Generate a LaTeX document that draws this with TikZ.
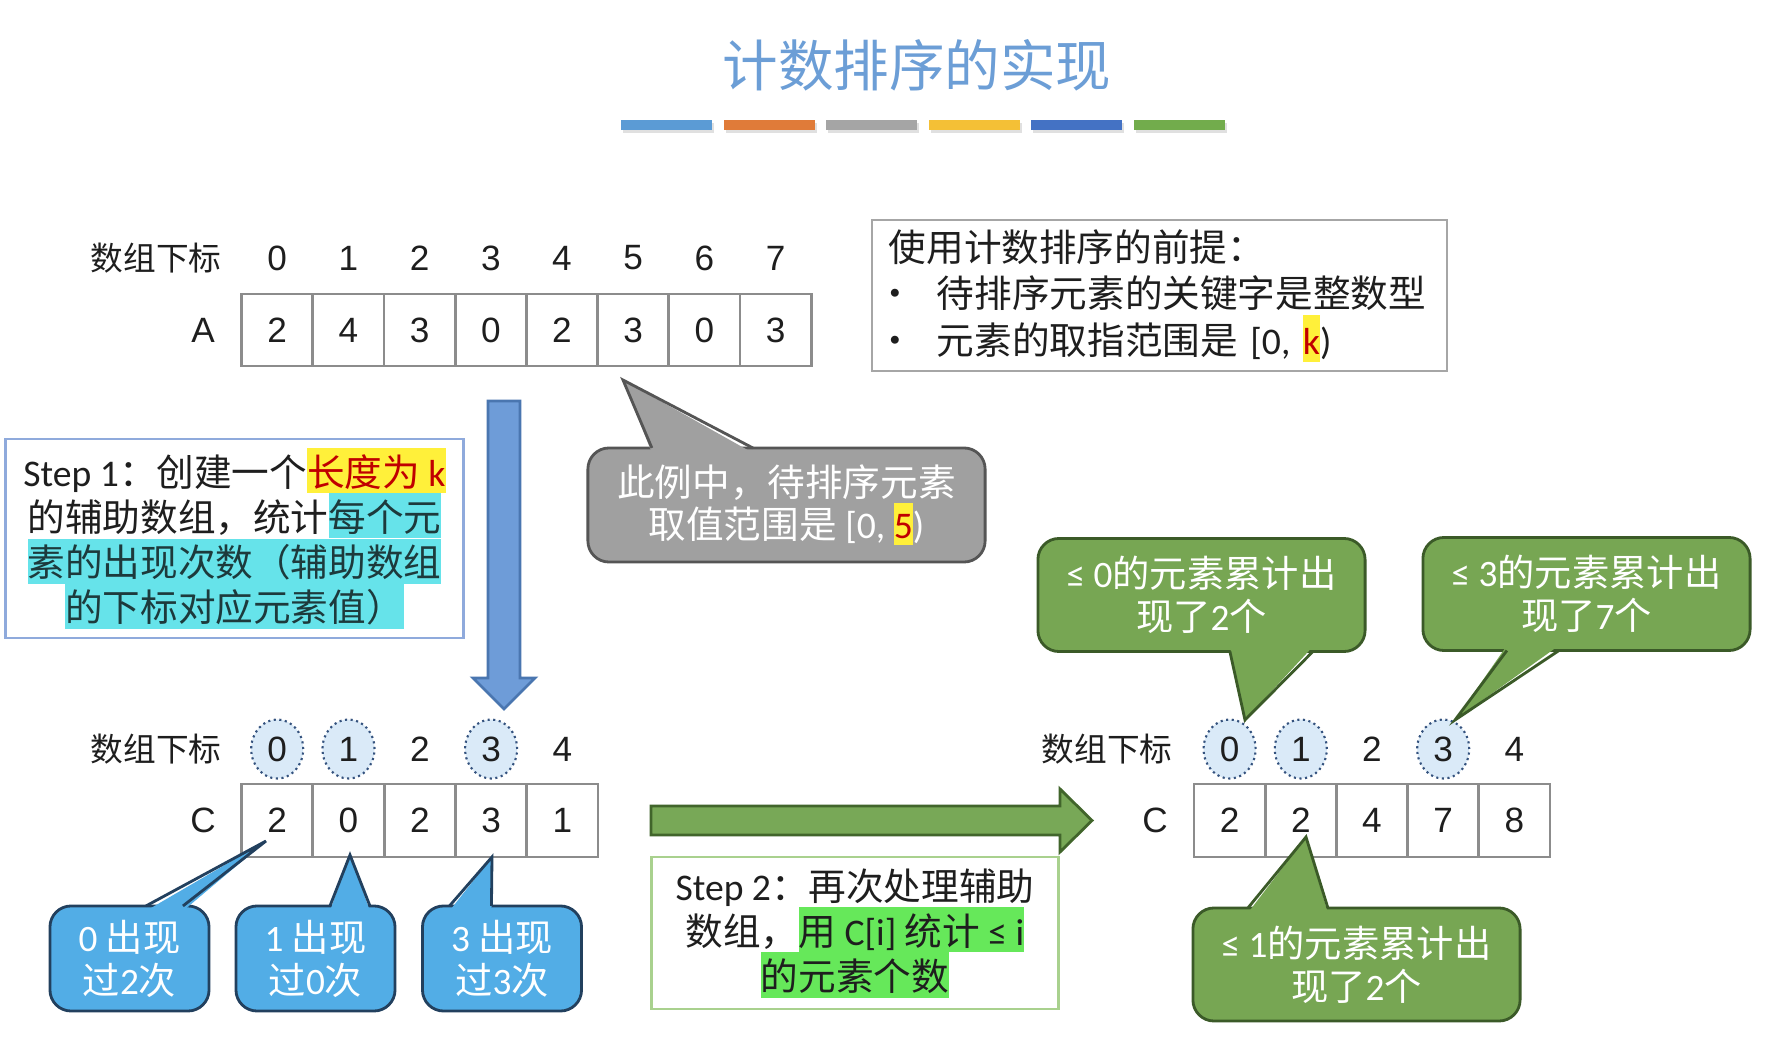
\documentclass[tikz,border=0pt]{standalone}
\usepackage{fontspec}
\setmainfont{Noto Sans CJK SC}
\newfontfamily\latin{Carlito}
\newfontfamily\arial{Liberation Sans}
\usepackage{tikz}
\usetikzlibrary{calc,shapes.geometric}
\definecolor{ink}{HTML}{1E1E1E}
\definecolor{titleblue}{HTML}{6C9ED6}
\definecolor{bar1}{HTML}{5B9BD5}
\definecolor{bar2}{HTML}{E07B39}
\definecolor{bar3}{HTML}{A5A5A5}
\definecolor{bar4}{HTML}{F4C036}
\definecolor{bar5}{HTML}{4472C4}
\definecolor{bar6}{HTML}{72AC4C}
\definecolor{cellline}{HTML}{8C8C8C}
\definecolor{ringfill}{HTML}{DAEAF8}
\definecolor{ringline}{HTML}{34527E}
\definecolor{boxgray}{HTML}{A6A6A6}
\definecolor{stepblue}{HTML}{8FAADC}
\definecolor{stepgreen}{HTML}{A9D18E}
\definecolor{hlyellow}{HTML}{FFF03A}
\definecolor{hlcyan}{HTML}{66E3EA}
\definecolor{hlgreen}{HTML}{66E85A}
\definecolor{hlred}{HTML}{C00000}
\definecolor{hlink}{HTML}{1D3A3C}
\definecolor{grayfill}{HTML}{A0A0A0}
\definecolor{grayedge}{HTML}{555555}
\definecolor{bluefill}{HTML}{52ADE6}
\definecolor{blueedge}{HTML}{22405E}
\definecolor{greenfill}{HTML}{77A653}
\definecolor{greenedge}{HTML}{3B5A28}
\definecolor{downfill}{HTML}{6E9CD8}
\definecolor{downedge}{HTML}{4A76B0}
\definecolor{rightfill}{HTML}{78A857}
\definecolor{rightedge}{HTML}{41652B}
% highlight that fills exactly one line
\newcommand{\hlbox}[2]{{\setlength{\fboxsep}{0pt}\colorbox{#1}{\rule[-0.15\baselineskip]{0pt}{\baselineskip}#2}}}
\newcommand{\dotitem}{\makebox[0.48cm][l]{\hspace{-0.12cm}•}}

\begin{document}
\begin{tikzpicture}[x=0.01cm, y=-0.01cm,
  cell/.style={draw=cellline, line width=0.8pt, minimum width=0.712cm, minimum height=0.73cm, inner sep=0pt, font=\arial\fontsize{10}{12}\selectfont, text=ink},
  idx/.style={inner sep=0pt, font=\arial\fontsize{10}{12}\selectfont, text=ink},
  idxon/.style={idx, ellipse, draw=ringline, densely dotted, line width=0.6pt, fill=ringfill, minimum width=0.52cm, minimum height=0.59cm},
  lab/.style={inner sep=0pt, font=\fontsize{9.3}{11}\selectfont, text=ink},
  stepbox/.style={draw=#1, line width=0.8pt, fill=white, align=center, text=ink, inner sep=0pt, font=\fontsize{10.7}{12.8}\selectfont},
  bub/.style={rounded corners=6pt, line width=0.8pt, outer sep=0pt, align=center, inner sep=0pt, font=\fontsize{10.6}{12.2}\selectfont},
  bluebub/.style={bub, draw=blueedge, fill=bluefill, text=white, minimum width=1.59cm, minimum height=1.05cm},
  greenbub/.style={bub, draw=greenedge, fill=greenfill, text=white, minimum width=3.27cm, minimum height=1.13cm},
  blockarrow/.style={line width=0.8pt, line join=miter},
]
\path[use as bounding box, fill=white] (0,0) rectangle (1787,1043);

% title and colour bars
\node[text=titleblue, font=\fontsize{15.8}{18}\selectfont] (title) at (917,65) {计数排序的实现};
\foreach \c [count=\i from 0] in {bar1,bar2,bar3,bar4,bar5,bar6} {
  \fill[black!12] ({623+102.6*\i},123) rectangle +(91,10);
  \fill[\c] ({621+102.6*\i},120) rectangle +(91,10);
}

% array A
\node[lab] (labA) at (156,258) {数组下标};
\node[idx] (nameA) at (203,330) {A};
\foreach \v [count=\i from 0] in {2,4,3,0,2,3,0,3} {
  \node[idx] (ia\i) at ({277.2+71.2*\i},258) {\i};
  \node[cell, minimum height=0.72cm] (a\i) at ({277.2+71.2*\i},330) {\v};
}

% premise box
\node[draw=boxgray, line width=0.7pt, minimum width=5.75cm, minimum height=1.51cm, inner xsep=0.17cm, inner ysep=0pt,
  text width=5.41cm, align=left, text=ink, font=\fontsize{10.7}{13.3}\selectfont] (pre) at (1159.5,295.5)
  {使用计数排序的前提：\\
   \dotitem 待排序元素的关键字是整数型\\
   \dotitem 元素的取指范围是 {\latin [0, }\hlbox{hlyellow}{\color{hlred}\latin k}{\latin )}};

% step 1
\node[stepbox=stepblue, minimum width=4.57cm, minimum height=1.99cm] (stepa) at (234.5,538.5)
  {{\latin Step 1}：创建一个\hlbox{hlyellow}{\color{hlred}长度为 {\latin k}}\\
   的辅助数组，统计\hlbox{hlcyan}{\color{hlink}每个元}\\
   \hlbox{hlcyan}{\color{hlink}素的出现次数（辅助数组}\\
   \hlbox{hlcyan}{\color{hlink}的下标对应元素值）}};

% example range callout
\node[bub, draw=grayedge, fill=grayfill, text=white, minimum width=3.97cm, minimum height=1.14cm,
  font=\fontsize{10.7}{12}\selectfont] (ex) at (786.5,505)
  {此例中，待排序元素\\取值范围是 {\latin [0, }\hlbox{hlyellow}{\color{hlred}\latin 5}{\latin )}};
\coordinate (extip) at (623,380);
\fill[grayfill] ($(ex.north west)+(64,5)$) -- (extip) -- ($(ex.north west)+(165,5)$) -- cycle;
\draw[grayedge, line width=0.8pt] ($(ex.north west)+(64,0)$) -- (extip) -- ($(ex.north west)+(165,0)$);

% down arrow
\coordinate (dn) at (504,401);
\coordinate (dt) at (504,709);
\draw[blockarrow, draw=downedge, fill=downfill] ($(dn)+(-16,0)$) -- ($(dn)+(16,0)$) -- ($(dt)+(16,-31)$)
  -- ($(dt)+(31,-31)$) -- (dt) -- ($(dt)+(-31,-31)$) -- ($(dt)+(-16,-31)$) -- cycle;

% array C (counts)
\node[lab] (labC) at (156,749) {数组下标};
\node[idx] (nameC) at (203,820.5) {C};
\foreach \v/\s [count=\i from 0] in {2/idxon,0/idxon,2/idx,3/idxon,1/idx} {
  \node[\s] (ic\i) at ({277.2+71.3*\i},749) {\i};
  \node[cell] (c\i) at ({277.2+71.3*\i},820.5) {\v};
}

% count callouts
\node[bluebub] (b0) at (129.5,958.5) {{\latin 0} 出现\\过{\latin 2}次};
\node[bluebub] (b1) at (315.5,958.5) {{\latin 1} 出现\\过{\latin 0}次};
\node[bluebub] (b3) at (502,958.5) {{\latin 3} 出现\\过{\latin 3}次};
\coordinate (b0tip) at (266,841);
\coordinate (b1tip) at (350,855);
\coordinate (b3tip) at (492,857);
\foreach \n/\l/\r in {b0/96/133, b1/94/134, b3/27/69} {
  \fill[bluefill] ($(\n.north west)+(\l,5)$) -- (\n tip) -- ($(\n.north west)+(\r,5)$) -- cycle;
  \draw[blueedge, line width=0.8pt] ($(\n.north west)+(\l,0)$) -- (\n tip) -- ($(\n.north west)+(\r,0)$);
}

% right arrow and step 2
\coordinate (rs) at (651,820.5);
\coordinate (rt) at (1092,820.5);
\draw[blockarrow, draw=rightedge, fill=rightfill] ($(rs)+(0,-14.5)$) -- ($(rt)+(-32,-14.5)$) -- ($(rt)+(-32,-31.5)$)
  -- (rt) -- ($(rt)+(-32,31.5)$) -- ($(rt)+(-32,14.5)$) -- ($(rs)+(0,14.5)$) -- cycle;
\node[stepbox=stepgreen, minimum width=4.06cm, minimum height=1.52cm, font=\fontsize{10.7}{12.9}\selectfont] (stepb) at (855,933)
  {{\latin Step 2}：再次处理辅助\\
   数组，\hlbox{hlgreen}{用 {\latin C[i]} 统计 {\latin ≤ i}}\\
   \hlbox{hlgreen}{的元素个数}};

% array C (prefix sums)
\node[lab] (labD) at (1107,749) {数组下标};
\node[idx] (nameD) at (1155,820.5) {C};
\foreach \v/\s [count=\i from 0] in {2/idxon,2/idxon,4/idx,7/idxon,8/idx} {
  \node[\s] (id\i) at ({1229.6+71.2*\i},749) {\i};
  \node[cell] (d\i) at ({1229.6+71.2*\i},820.5) {\v};
}

% prefix callouts
\node[greenbub] (g0) at (1201.5,595) {{\latin ≤ 0}的元素累计出\\现了{\latin 2}个};
\node[greenbub] (g3) at (1586.5,594) {{\latin ≤ 3}的元素累计出\\现了{\latin 7}个};
\node[greenbub] (g1) at (1356.5,964.5) {{\latin ≤ 1}的元素累计出\\现了{\latin 2}个};
\coordinate (g0tip) at (1245,720);
\coordinate (g3tip) at (1455,720);
\coordinate (g1tip) at (1306,837);
\foreach \n/\l/\r in {g0/192/275, g3/84/136} {
  \fill[greenfill] ($(\n.south west)+(\l,-5)$) -- (\n tip) -- ($(\n.south west)+(\r,-5)$) -- cycle;
  \draw[greenedge, line width=0.8pt] ($(\n.south west)+(\l,0)$) -- (\n tip) -- ($(\n.south west)+(\r,0)$);
}
\fill[greenfill] ($(g1.north west)+(55,5)$) -- (g1tip) -- ($(g1.north west)+(135,5)$) -- cycle;
\draw[greenedge, line width=0.8pt] ($(g1.north west)+(55,0)$) -- (g1tip) -- ($(g1.north west)+(135,0)$);
\end{tikzpicture}
\end{document}
